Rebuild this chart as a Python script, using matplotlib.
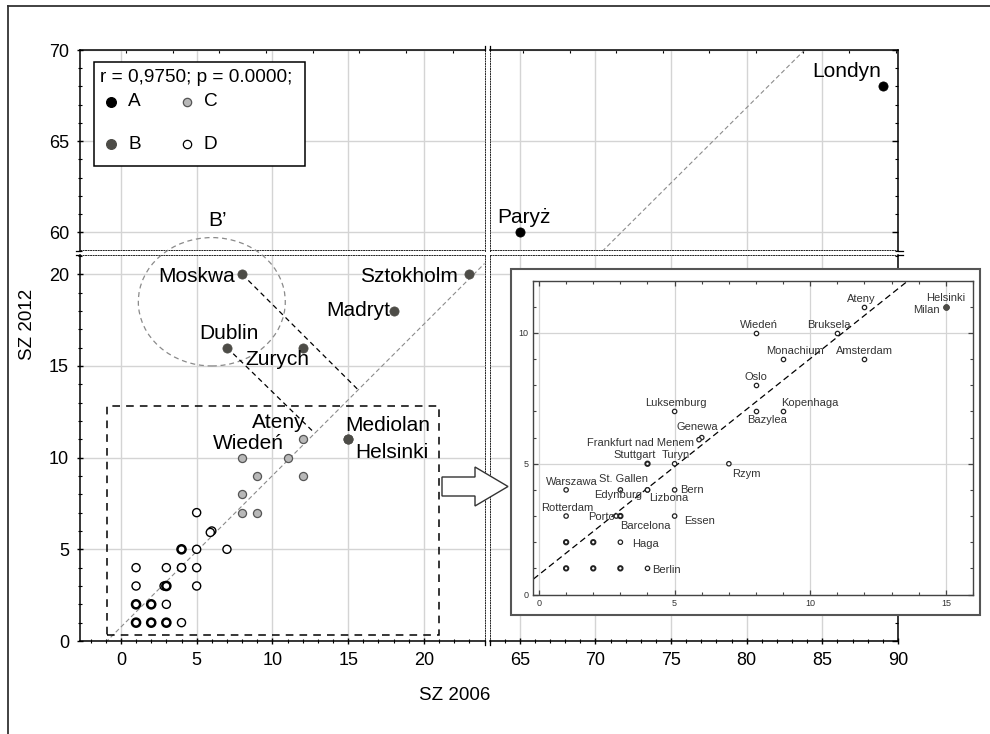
import numpy as np
import matplotlib
matplotlib.use("Agg")
import matplotlib.pyplot as plt
import matplotlib.patches as mpatches
import matplotlib.transforms as mtransforms
from matplotlib.lines import Line2D
from matplotlib.ticker import MultipleLocator, FixedLocator

plt.rcParams["font.family"] = ["Liberation Sans", "DejaVu Sans"]

W, H = 990, 734

# SZ 2006 (x) vs SZ 2012 (y), four groups of cities
a_names = ["Londyn", "Paryż"]
a_2006 = [89, 65]
a_2012 = [68, 60]

b_names = ["Moskwa", "Sztokholm", "Madryt", "Dublin", "Zurych", "Mediolan", "Helsinki"]
b_2006 = [8, 23, 18, 7, 12, 15, 15]
b_2012 = [20, 20, 18, 16, 16, 11, 11]

c_names = ["Ateny", "Wiedeń", "Bruksela", "Monachium", "Amsterdam", "Oslo", "Bazylea", "Kopenhaga"]
c_2006 = [12, 8, 11, 9, 12, 8, 8, 9]
c_2012 = [11, 10, 10, 9, 9, 8, 7, 7]

d_names = ["Luksemburg", "Genewa", "Frankfurt nad Menem", "Stuttgart", "Turyn", "Rzym",
           "Warszawa", "St. Gallen", "Lizbona", "Edynburg", "Bern", "Rotterdam", "Porto",
           "Barcelona", "Essen", "Haga", "Berlin", "", "", "", "", ""]
d_2006 = [5, 6, 5.9, 4, 5, 7, 1, 3, 4, 4, 5, 1, 2.85, 3, 5, 3, 4, 1, 2, 1, 2, 3]
d_2012 = [7, 6, 5.92, 5, 5, 5, 4, 4, 4, 4, 4, 3, 3.0, 3, 3, 2, 1, 2, 2, 1, 1, 1]
d_count = [1, 1, 1, 2, 1, 1, 1, 1, 1, 1, 1, 1, 1, 2, 1, 1, 1, 2, 2, 2, 2, 2]

# regression line y = a + b*x
fit_a, fit_b = 0.76, 0.826
stats_text = "r = 0,9750; p = 0.0000;"

# dashed projections of Moskwa and Dublin onto the regression line
proj_from = ["Moskwa", "Dublin"]
proj_2006 = [15.67, 12.8]
proj_2012 = [13.69, 11.33]

col_a = "black"
col_b = "#4d4c47"
col_c = "#b8b8b8"
col_grid = "#d4d4d4"

all_names = a_names + b_names + c_names + d_names
all_x = a_2006 + b_2006 + c_2006 + d_2006
all_y = a_2012 + b_2012 + c_2012 + d_2012

# label placement: name -> (dx pt, dy pt, ha)
main_labels = {
    "Londyn": (-1.2, 7, "right"), "Paryż": (2.9, 6.7, "center"),
    "Moskwa": (-5, -5.3, "right"), "Sztokholm": (-8.4, -5.9, "right"),
    "Madryt": (-2.6, -3.6, "right"), "Dublin": (1.3, 6, "center"),
    "Zurych": (5, -12.7, "right"), "Ateny": (2.4, 7.9, "right"),
    "Wiedeń": (4.3, 6.5, "center"), "Mediolan": (-2.4, 6.2, "left"),
    "Helsinki": (4.8, -13.2, "left"),
}
# inset: name -> (text, dx pt, dy pt, ha)
inset_labels = {
    "Ateny": ("Ateny", -2, 3.6, "center"), "Helsinki": ("Helsinki", 0, 4.3, "center"),
    "Mediolan": ("Milan", -4.5, -4.3, "right"), "Wiedeń": ("Wiedeń", 2.2, 3.4, "center"),
    "Bruksela": ("Bruksela", -5.8, 3.4, "center"), "Monachium": ("Monachium", 8.6, 3.6, "center"),
    "Amsterdam": ("Amsterdam", 0, 3.6, "center"), "Oslo": ("Oslo", 0, 3.6, "center"),
    "Luksemburg": ("Luksemburg", 0.7, 3.6, "center"), "Bazylea": ("Bazylea", 8, -8.2, "center"),
    "Kopenhaga": ("Kopenhaga", -1.2, 3.8, "left"), "Genewa": ("Genewa", -3.4, 5.3, "center"),
    "Frankfurt nad Menem": ("Frankfurt nad Menem", -3.4, -4.3, "right"),
    "Stuttgart": ("Stuttgart", -9.4, 3.8, "center"), "Turyn": ("Turyn", 1.2, 3.8, "center"),
    "Rzym": ("Rzym", 2.2, -9.6, "left"), "Warszawa": ("Warszawa", 4.3, 3.8, "center"),
    "St. Gallen": ("St. Gallen", 2.2, 5.5, "center"), "Lizbona": ("Lizbona", 1.2, -8.2, "left"),
    "Edynburg": ("Edynburg", -3.6, -5.8, "right"), "Bern": ("Bern", 3.8, -2.2, "left"),
    "Rotterdam": ("Rotterdam", 0.7, 3.8, "center"), "Porto": ("Porto", -1, -3.1, "right"),
    "Barcelona": ("Barcelona", -0.3, -9.4, "left"), "Essen": ("Essen", 7, -5.5, "left"),
    "Haga": ("Haga", 8.4, -3.8, "left"), "Berlin": ("Berlin", 3.1, -3.4, "left"),
}

fig = plt.figure(figsize=(W / 100, H / 100), dpi=100)
pix = mtransforms.Affine2D().scale(1.0 / W, -1.0 / H).translate(0, 1) + fig.transFigure


def rect(x0, y0, x1, y1):
    return [x0 / W, 1 - y1 / H, (x1 - x0) / W, (y1 - y0) / H]


ax_tl = fig.add_axes(rect(80, 50, 484.5, 250.5))
ax_tr = fig.add_axes(rect(489.5, 50, 898, 250.5))
ax_bl = fig.add_axes(rect(80, 255, 484.5, 641))
ax_br = fig.add_axes(rect(489.5, 255, 898, 641))
axes = [ax_tl, ax_tr, ax_bl, ax_br]

for ax in axes:
    left = ax in (ax_tl, ax_bl)
    top = ax in (ax_tl, ax_tr)
    ax.set_xlim(-2.7, 24.0) if left else ax.set_xlim(63, 90)
    ax.set_ylim(59, 70) if top else ax.set_ylim(0, 21.05)
    ax.xaxis.set_major_locator(MultipleLocator(5))
    ax.yaxis.set_major_locator(MultipleLocator(5))
    ax.yaxis.set_minor_locator(MultipleLocator(1))
    ax.xaxis.set_minor_locator(MultipleLocator(1))
    ax.grid(True, which="major", color=col_grid, lw=1.0, zorder=0)
    ax.set_axisbelow(True)
    for s in ax.spines.values():
        s.set_color("black")
        s.set_linewidth(1.1)
    # broken-axis edges drawn as fine dotted lines
    inner = [("right" if left else "left"), ("bottom" if top else "top")]
    for s in inner:
        ax.spines[s].set_linestyle((0, (1, 1.6)))
        ax.spines[s].set_linewidth(0.7)
        ax.spines[s].set_color("#222222")
    ax.tick_params(which="both", left=False, right=False, top=False, bottom=False,
                   labelleft=False, labelbottom=False, labelsize=13, pad=5.5)
    if left:
        ax.tick_params(which="major", left=True, labelleft=True, direction="inout", length=5, width=1)
        ax.tick_params(axis="y", which="minor", left=True, direction="inout", length=3, width=0.8)
    else:
        ax.tick_params(axis="y", which="major", right=True, direction="in", length=4, width=1)
        ax.tick_params(axis="y", which="minor", right=True, direction="in", length=2.5, width=0.8)
    if not top:
        ax.tick_params(axis="x", which="major", bottom=True, labelbottom=True,
                       direction="inout", length=5, width=1)
        ax.tick_params(axis="x", which="minor", bottom=True, direction="inout", length=3, width=0.8)
    else:
        start = 0.33 if left else 65.22
        ax.xaxis.set_minor_locator(FixedLocator(np.arange(start, ax.get_xlim()[1], 3.08)))
        ax.tick_params(axis="x", which="minor", top=True, direction="in", length=2.5, width=0.8)

    # regression line
    xs = np.array(ax.get_xlim())
    ax.plot(xs, fit_a + fit_b * xs, ls=(0, (4, 2.5)), color="#8c8c8c", lw=0.8, zorder=2)
    # points
    ax.scatter(a_2006, a_2012, s=44, c=col_a, edgecolors=col_a, linewidths=0.5, zorder=4)
    ax.scatter(b_2006, b_2012, s=44, c=col_b, edgecolors=col_b, linewidths=0.5, zorder=4)
    ax.scatter(c_2006, c_2012, s=34, c=col_c, edgecolors="#555555", linewidths=0.9, zorder=4)
    lw_d = np.where(np.array(d_count) > 1, 1.8, 1.0)
    ax.scatter(d_2006, d_2012, s=34, c="white", edgecolors="black", linewidths=lw_d, zorder=4)

ax_tl.tick_params(axis="x", labelbottom=False)
ax_tr.tick_params(labelleft=False, labelbottom=False)


def pick(x, y):
    if y > 50:
        return ax_tl if x < 50 else ax_tr
    return ax_bl if x < 50 else ax_br


for name, (dx, dy, ha) in main_labels.items():
    i = all_names.index(name)
    ax = pick(all_x[i], all_y[i])
    ax.annotate(name, (all_x[i], all_y[i]), xytext=(dx, dy), textcoords="offset points",
                ha=ha, va="baseline", fontsize=15, zorder=6)

ax_tl.text(6.4, 60.36, "B\u2019", ha="center", va="baseline", fontsize=15)

# dashed ellipse (B'), projections and zoom rectangle
ax_bl.add_patch(mpatches.Ellipse((6.0, 18.5), 9.7, 7.0, fill=False, ec="#8a8a8a",
                                 ls=(0, (4, 3)), lw=0.9, clip_on=False, zorder=3))
for name, px_, py_ in zip(proj_from, proj_2006, proj_2012):
    i = all_names.index(name)
    ax_bl.plot([all_x[i], px_], [all_y[i], py_], ls=(0, (4, 3)), color="black", lw=0.9, zorder=3)
ax_bl.add_patch(mpatches.Rectangle((-0.9, 0.35), 21.9, 12.45, fill=False, ec="black",
                                   ls=(0, (5, 4)), lw=1.1, zorder=3))

# break marks
for x in (484.5, 489.5):
    for y0, y1 in ((46, 50), (641, 645)):
        fig.add_artist(Line2D([x, x], [y0, y1], transform=pix, color="black", lw=0.9))
for y in (250.5, 255):
    for x0, x1 in ((76, 80), (898, 903)):
        fig.add_artist(Line2D([x0, x1], [y, y], transform=pix, color="black", lw=0.9))

# legend
fig.add_artist(mpatches.Rectangle((94.3, 62.3), 210.4, 103.4, transform=pix, fc="white",
                                  ec="black", lw=1.1, zorder=5))
fig.text(100, 77.7, stats_text, transform=pix, fontsize=13.7, ha="left", va="center", zorder=6)
legend_keys = [("A", col_a, col_a, 7.0, 111, 101.7), ("B", col_b, col_b, 7.0, 111, 144.3),
               ("C", col_c, "#555555", 6.0, 186.7, 101.7), ("D", "white", "black", 6.0, 186.7, 144.3)]
for lab, fc, ec, ms, mx, my in legend_keys:
    fig.add_artist(Line2D([mx], [my], transform=pix, marker="o", ms=ms, mfc=fc, mec=ec,
                          mew=0.9, ls="none", zorder=6))
    fig.text(mx + 17, my, lab, transform=pix, fontsize=13.7, ha="left", va="center", zorder=6)

# arrow toward inset
fig.add_artist(mpatches.FancyArrow(442, 486.5, 66, 0, width=19, head_width=39, head_length=33,
                                   length_includes_head=True, transform=pix, fc="white",
                                   ec="#333333", lw=1.0, zorder=7))

# axis titles and page frame
fig.text(455, 695, "SZ 2006", transform=pix, fontsize=13.5, ha="center", va="center")
fig.text(28, 324, "SZ 2012", transform=pix, fontsize=13.5, ha="center", va="center", rotation=90)
fig.add_artist(Line2D([8.3, 8.3], [6, 734], transform=pix, color="#333333", lw=1.3))
fig.add_artist(Line2D([8.3, 990], [6, 6], transform=pix, color="#333333", lw=1.3))

# inset zoom
fig.add_artist(mpatches.Rectangle((511, 269), 469, 346, transform=pix, fc="white",
                                  ec="#555555", lw=1.5, zorder=9))
ax_in = fig.add_axes(rect(533.3, 280.7, 973, 594.5))
ax_in.set_zorder(10)
ax_in.set_xlim(-0.21, 16.0)
ax_in.set_ylim(0, 12)
ax_in.xaxis.set_major_locator(MultipleLocator(5))
ax_in.yaxis.set_major_locator(MultipleLocator(5))
ax_in.xaxis.set_minor_locator(MultipleLocator(1))
ax_in.yaxis.set_minor_locator(MultipleLocator(1))
ax_in.grid(True, which="major", color=col_grid, lw=0.9)
ax_in.set_axisbelow(True)
for s in ax_in.spines.values():
    s.set_color("#444444")
    s.set_linewidth(1.0)
ax_in.tick_params(which="both", direction="in", top=True, right=True, colors="#444444",
                  labelsize=6.5, labelcolor="#333333", pad=3.5)
ax_in.tick_params(which="major", length=3.5, width=0.9)
ax_in.tick_params(which="minor", length=2.5, width=0.8)

xs = np.array(ax_in.get_xlim())
ax_in.plot(xs, fit_a + fit_b * xs, ls=(0, (5, 3)), color="black", lw=0.9, zorder=2)
ax_in.scatter(c_2006, c_2012, s=10, c="white", edgecolors="#222222", linewidths=0.9, zorder=4)
ax_in.scatter(d_2006, d_2012, s=10, c="white", edgecolors="#222222",
              linewidths=np.where(np.array(d_count) > 1, 1.4, 0.9), zorder=4)
ax_in.scatter(b_2006, b_2012, s=16, c=col_b, edgecolors=col_b, linewidths=0.6, zorder=4)

for name, (txt, dx, dy, ha) in inset_labels.items():
    i = all_names.index(name)
    ax_in.annotate(txt, (all_x[i], all_y[i]), xytext=(dx, dy), textcoords="offset points",
                   ha=ha, va="baseline", fontsize=8, color="#333333", zorder=6)

fig.savefig("out.png", dpi=100)
